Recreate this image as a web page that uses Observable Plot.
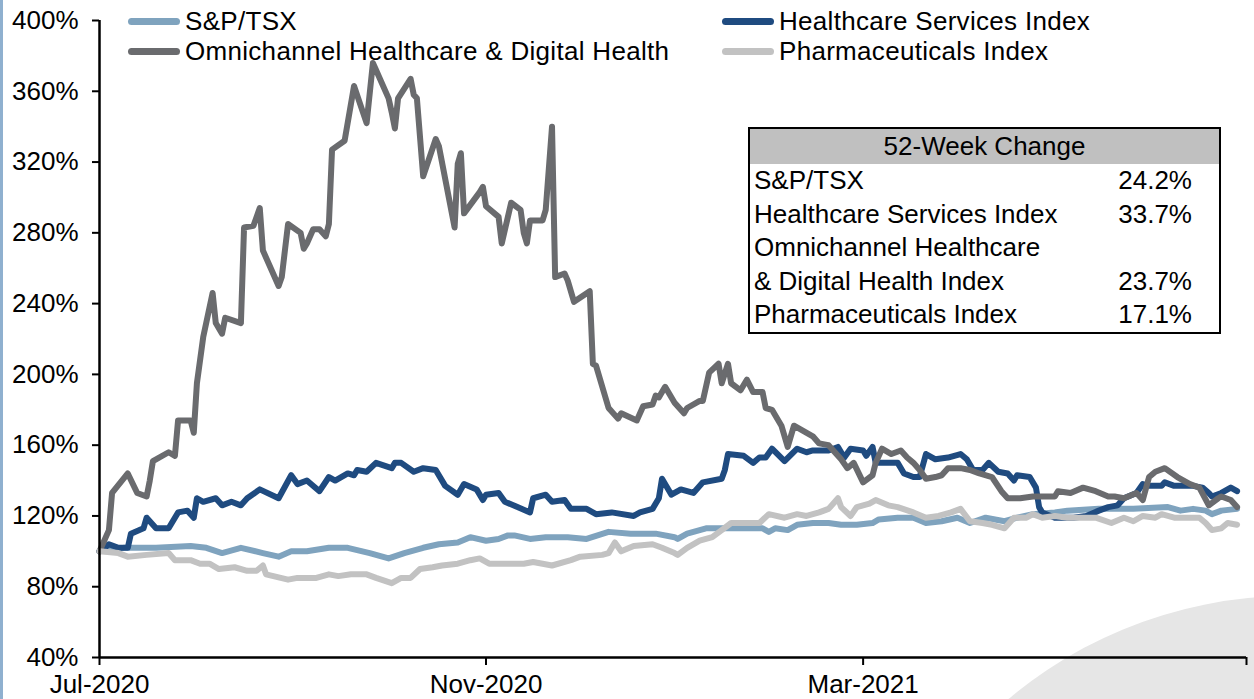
<!DOCTYPE html>
<html><head><meta charset="utf-8">
<script src="https://cdn.jsdelivr.net/npm/d3@7"></script>
<script src="https://cdn.jsdelivr.net/npm/@observablehq/plot@0.6"></script>
<style>
html,body{margin:0;padding:0;background:#fff;}
body{font-family:"Liberation Sans",Arial,sans-serif;color:#000;}
#wrap{position:relative;width:1254px;height:699px;overflow:hidden;background:#fff;}
#arc{position:absolute;left:852px;top:596px;width:878px;height:878px;border-radius:50%;background:#e6e6e6;}
#lb{position:absolute;left:0;top:0;width:3px;height:699px;background:#8fb0cf;}
#chart{position:absolute;left:0;top:0;}
.leg{position:absolute;display:flex;align-items:center;height:30px;font-size:26px;line-height:30px;white-space:nowrap;letter-spacing:0.3px;}
.leg .sw{width:52px;height:7px;border-radius:3.5px;margin-right:5px;}
#tbl{position:absolute;left:748px;top:127px;width:469px;border:2px solid #000;background:#fff;font-size:26px;}
#tbl .hd{height:35px;line-height:35px;background:#c0c0c0;text-align:center;}
#tbl .row{height:33.6px;line-height:33.6px;display:flex;justify-content:space-between;padding:0 27px 0 4px;}
</style>
</head><body>
<div id="wrap">
  <div id="arc"></div>
  <div id="lb"></div>
  <div id="chart"></div>
  <div id="legend"></div>
  <div id="tbl"></div>
</div>
<script>
const seriesNames = ["S&P/TSX", "Healthcare Services Index", "Omnichannel Healthcare & Digital Health", "Pharmaceuticals Index"];
const seriesColors = ["#7fa3be", "#1f4b80", "#6a6b6e", "#c2c2c2"];

// [days since 2020-07-01, value in %]
const tsxPoints = [[0,100],[8,102],[18,102],[29,103],[34,102],[39,99],[45,102],[52,99],[57,97],[61,100],[66,100],[73,102],[79,102],[86,99],[92,96],[97,99],[103,102],[108,104],[114,105],[118,108],[123,106],[127,107],[130,109],[132,109],[137,107],[142,108],[149,108],[155,107],[162,111],[169,110],[177,110],[183,108],[184,107],[187,110],[193,113],[200,113],[206,113],[211,113],[213,111],[215,113],[219,112],[222,115],[227,116],[232,116],[236,115],[241,115],[246,116],[248,118],[254,119],[259,119],[263,116],[268,117],[273,119],[277,116],[282,119],[288,117],[292,119],[297,121],[304,122],[308,123],[318,124],[329,124],[340,125],[344,123],[348,124],[352,123],[354,121],[357,123],[362,124]];

const healthPoints = [[0,100],[3,104],[6,102],[9,102],[10,110],[14,113],[15,119],[18,113],[22,113],[25,122],[28,123],[30,119],[31,130],[33,128],[37,130],[39,126],[42,128],[45,126],[47,130],[51,135],[57,130],[61,143],[63,138],[66,140],[70,134],[73,142],[75,140],[79,144],[81,143],[82,146],[85,145],[88,150],[93,147],[94,150],[96,150],[100,145],[103,147],[107,146],[110,137],[114,132],[116,138],[120,135],[122,129],[123,132],[127,133],[129,128],[133,125],[137,122],[138,130],[142,132],[144,128],[148,129],[150,124],[155,124],[158,121],[163,122],[170,120],[172,122],[176,124],[178,130],[179,141],[182,132],[185,135],[189,133],[192,139],[198,141],[199,146],[200,155],[205,154],[208,150],[210,153],[212,153],[214,158],[218,151],[222,158],[225,156],[227,157],[229,157],[232,157],[235,159],[237,153],[239,158],[243,157],[244,154],[246,159],[247,150],[252,150],[254,150],[256,144],[259,142],[261,142],[263,155],[266,152],[270,153],[274,155],[276,152],[278,146],[281,146],[283,150],[286,145],[289,144],[291,140],[292,143],[296,142],[298,136],[299,125],[300,122],[304,119],[310,119],[314,120],[318,123],[321,125],[324,126],[326,130],[330,133],[332,138],[334,137],[338,137],[339,139],[342,137],[345,137],[348,137],[351,136],[353,133],[354,131],[357,133],[360,136],[362,134]];

const omniPoints = [[0,100],[3,112],[4,133],[9,144],[12,133],[15,131],[16,140],[17,151],[22,156],[24,154],[25,174],[29,174],[30,167],[31,195],[33,221],[36,246],[37,229],[39,223],[40,232],[45,229],[46,283],[49,284],[51,294],[52,270],[57,250],[58,255],[60,285],[64,280],[65,271],[66,274],[68,282],[70,282],[72,278],[73,285],[74,327],[78,332],[81,363],[85,342],[87,376],[88,372],[92,356],[93,348],[94,339],[95,356],[99,367],[100,358],[101,356],[103,312],[107,333],[108,329],[113,283],[114,319],[115,325],[116,291],[121,303],[122,306],[123,295],[127,289],[128,274],[131,297],[134,293],[135,280],[136,274],[137,287],[141,287],[142,293],[144,340],[145,255],[148,257],[149,253],[151,241],[156,247],[157,206],[158,205],[162,181],[165,175],[166,178],[171,174],[173,182],[176,183],[177,188],[178,187],[180,193],[183,184],[186,178],[187,181],[191,185],[192,185],[194,201],[197,206],[198,195],[200,206],[201,195],[204,191],[206,197],[208,190],[211,190],[212,181],[214,180],[217,171],[219,159],[221,171],[227,165],[229,161],[232,160],[236,152],[238,147],[240,150],[243,139],[246,143],[247,150],[249,158],[252,155],[255,157],[257,153],[259,150],[261,146],[263,141],[266,142],[268,143],[270,147],[274,147],[277,146],[280,144],[284,142],[287,134],[289,130],[291,130],[293,130],[297,131],[304,131],[305,134],[309,133],[313,136],[317,134],[321,131],[323,131],[326,130],[330,133],[332,129],[334,142],[336,145],[339,147],[343,142],[345,140],[347,138],[350,136],[353,126],[356,130],[357,131],[360,129],[362,125]];

const pharmaPoints = [[0,100],[6,99],[9,97],[15,98],[22,99],[24,95],[29,95],[32,93],[35,93],[38,90],[43,91],[47,89],[50,89],[52,92],[53,87],[60,84],[63,85],[66,85],[69,85],[73,87],[76,86],[80,87],[85,87],[88,85],[93,82],[96,85],[99,85],[102,90],[106,91],[109,92],[114,93],[118,95],[121,96],[124,93],[130,93],[135,93],[138,94],[144,92],[150,95],[153,97],[160,98],[162,99],[164,105],[166,100],[170,103],[176,104],[179,102],[183,99],[184,98],[187,102],[191,106],[195,108],[198,112],[201,116],[206,116],[210,116],[213,121],[218,119],[222,121],[225,120],[229,122],[232,124],[235,130],[236,125],[239,120],[241,125],[245,127],[247,129],[251,126],[254,125],[259,122],[263,119],[267,120],[271,122],[274,124],[277,117],[281,116],[284,115],[288,113],[291,119],[295,119],[297,121],[300,119],[304,120],[308,119],[312,119],[317,119],[322,116],[326,119],[329,117],[332,120],[336,119],[338,121],[342,119],[346,119],[350,119],[352,116],[354,112],[357,113],[359,116],[362,115]];

const xTickDates = ["2020-07-01", "2020-11-01", "2021-03-01", "2021-07-01"];
const xTickLabels = ["Jul-2020", "Nov-2020", "Mar-2021", ""];
const yTicks = [40, 80, 120, 160, 200, 240, 280, 320, 360, 400];

const tableTitle = "52-Week Change";
const tableLabels = ["S&P/TSX", "Healthcare Services Index", "Omnichannel Healthcare", "& Digital Health Index", "Pharmaceuticals Index"];
const tableValues = ["24.2%", "33.7%", "", "23.7%", "17.1%"];

const start = new Date(Date.UTC(2020, 6, 1));
const end = new Date(Date.UTC(2021, 6, 1));
const allPoints = [tsxPoints, healthPoints, omniPoints, pharmaPoints];
const data = allPoints.flatMap((pts, k) => pts.map(([d, v]) => ({series: seriesNames[k], date: d3.utcDay.offset(start, d), value: v})));

const tickDates = xTickDates.map(s => new Date(s + "T00:00:00Z"));
const labelMap = new Map(tickDates.map((d, i) => [+d, xTickLabels[i]]));

const chart = Plot.plot({
  width: 1254, height: 699,
  marginLeft: 99, marginRight: 8, marginTop: 20, marginBottom: 42,
  style: {background: "transparent", fontFamily: "'Liberation Sans', Arial, sans-serif", fontSize: "26px", color: "#000"},
  x: {type: "utc", domain: [start, end]},
  y: {domain: [40, 400]},
  color: {domain: seriesNames, range: seriesColors},
  marks: [
    Plot.axisY({ticks: yTicks, tickFormat: d => d + "%", tickSize: 7, tickPadding: 14, strokeWidth: 2, fontSize: 26, label: null}),
    Plot.axisX({ticks: tickDates, tickFormat: d => labelMap.get(+d) ?? "", tickSize: 8, tickPadding: 9, strokeWidth: 2, fontSize: 26, label: null}),
    Plot.lineY(data, {x: "date", y: "value", z: "series", stroke: "series", strokeWidth: 6, strokeLinejoin: "round", strokeLinecap: "round"}),
    Plot.ruleX([start], {stroke: "#000", strokeWidth: 2.5}),
    Plot.ruleY([40], {stroke: "#000", strokeWidth: 2.5})
  ]
});
document.getElementById("chart").appendChild(chart);

// legend (overlaid on plot, two columns)
const legendPos = [[128, 6], [722, 6], [128, 36], [722, 36]];
const legend = document.getElementById("legend");
seriesNames.forEach((name, i) => {
  const el = document.createElement("div");
  el.className = "leg";
  el.style.left = legendPos[i][0] + "px";
  el.style.top = legendPos[i][1] + "px";
  const sw = document.createElement("div");
  sw.className = "sw";
  sw.style.background = seriesColors[i];
  const tx = document.createElement("span");
  tx.textContent = name;
  el.appendChild(sw); el.appendChild(tx);
  legend.appendChild(el);
});

// 52-week change table
const tbl = document.getElementById("tbl");
const hd = document.createElement("div");
hd.className = "hd"; hd.textContent = tableTitle;
tbl.appendChild(hd);
tableLabels.forEach((lab, i) => {
  const r = document.createElement("div");
  r.className = "row";
  const a = document.createElement("span"); a.textContent = lab;
  const b = document.createElement("span"); b.textContent = tableValues[i];
  r.appendChild(a); r.appendChild(b);
  tbl.appendChild(r);
});
</script>
</body></html>
